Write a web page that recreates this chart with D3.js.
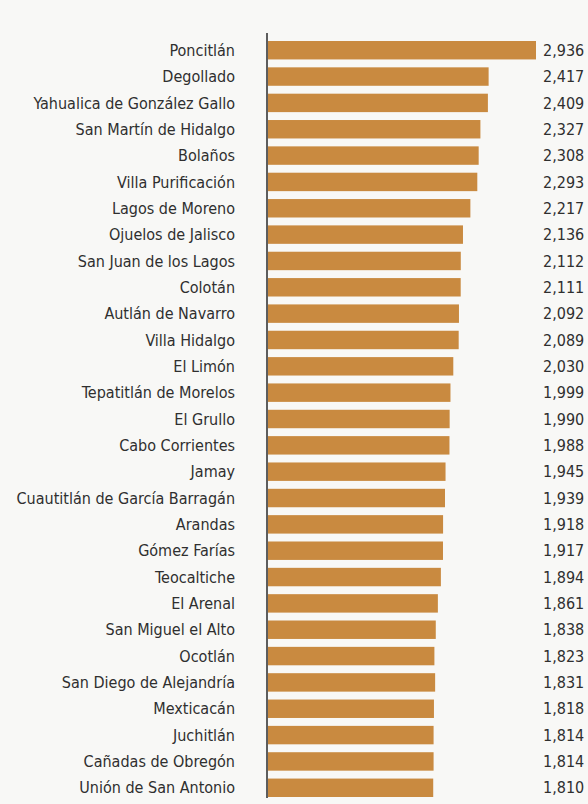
<!DOCTYPE html>
<html>
<head>
<meta charset="utf-8">
<script src="https://cdn.jsdelivr.net/npm/d3@7"></script>
<style>
  body { margin: 0; background: #f8f8f6; }
  svg { display: block; }
  .label { font-family: "Liberation Sans Narrow", "DejaVu Sans Condensed", sans-serif; font-size: 16px; fill: #2f2f2f; }
  .value { font-family: "Liberation Sans Narrow", "DejaVu Sans Condensed", sans-serif; font-size: 16px; fill: #2f2f2f; }
</style>
</head>
<body>
<script>
var municipios = ["Poncitlán", "Degollado", "Yahualica de González Gallo", "San Martín de Hidalgo",
    "Bolaños", "Villa Purificación", "Lagos de Moreno", "Ojuelos de Jalisco", "San Juan de los Lagos",
    "Colotán", "Autlán de Navarro", "Villa Hidalgo", "El Limón", "Tepatitlán de Morelos", "El Grullo",
    "Cabo Corrientes", "Jamay", "Cuautitlán de García Barragán", "Arandas", "Gómez Farías",
    "Teocaltiche", "El Arenal", "San Miguel el Alto", "Ocotlán", "San Diego de Alejandría",
    "Mexticacán", "Juchitlán", "Cañadas de Obregón", "Unión de San Antonio"];
var valores = [2936, 2417, 2409, 2327, 2308, 2293, 2217, 2136, 2112, 2111, 2092, 2089, 2030, 1999,
    1990, 1988, 1945, 1939, 1918, 1917, 1894, 1861, 1838, 1823, 1831, 1818, 1814, 1814, 1810];

window.onload = drawChart();

function drawChart(){
    var width = 588, height = 804;

    var data = municipios.map(function(m, i){
        return { name: m, value: valores[i] };
    });

    var svg = d3.select("body")
        .append("svg")
        .attr("width", width)
        .attr("height", height);

    //horizontal scale for bar length
    var x = d3.scaleLinear()
        .domain([0, d3.max(valores)])
        .range([268, 536]);

    var y = d3.scaleBand()
        .domain(municipios)
        .range([41, 797])
        .paddingInner(0.3);

    svg.selectAll(".bar")
        .data(data)
        .enter()
        .append("rect")
        .attr("class", "bar")
        .attr("x", x(0))
        .attr("y", function(d){ return y(d.name); })
        .attr("width", function(d){ return x(d.value) - x(0); })
        .attr("height", y.bandwidth())
        .style("fill", "#c98a40");

    //vertical axis line
    svg.append("line")
        .attr("x1", 267).attr("x2", 267)
        .attr("y1", 33).attr("y2", 798)
        .style("stroke", "#2a2a2a")
        .style("stroke-width", 1.5);

    svg.selectAll(".label")
        .data(data)
        .enter()
        .append("text")
        .attr("class", "label")
        .attr("x", 235)
        .attr("y", function(d){ return y(d.name) + y.bandwidth() / 2; })
        .attr("dy", "0.35em")
        .attr("text-anchor", "end")
        .text(function(d){ return d.name; });

    svg.selectAll(".value")
        .data(data)
        .enter()
        .append("text")
        .attr("class", "value")
        .attr("x", 543)
        .attr("y", function(d){ return y(d.name) + y.bandwidth() / 2; })
        .attr("dy", "0.35em")
        .text(function(d){ return d3.format(",")(d.value); });
}
</script>
</body>
</html>
